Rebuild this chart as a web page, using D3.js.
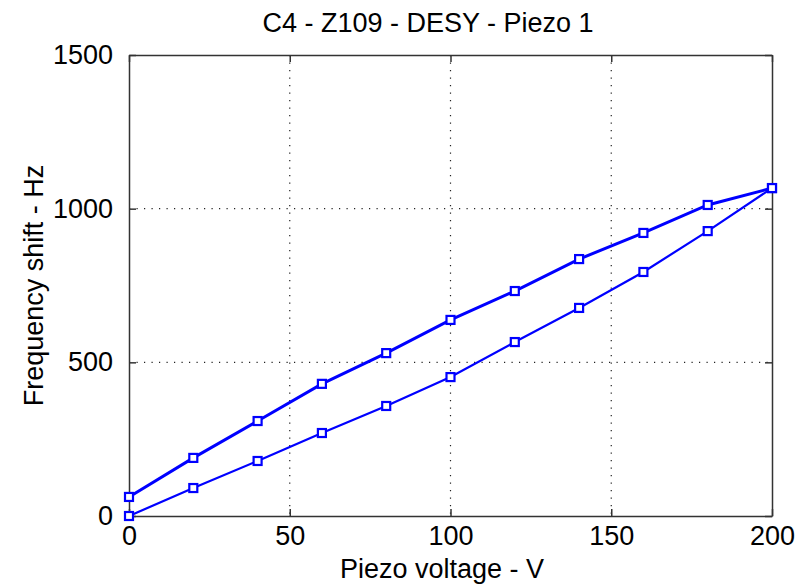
<!DOCTYPE html>
<html>
<head>
<meta charset="utf-8">
<script src="https://cdn.jsdelivr.net/npm/d3@7"></script>
<style>
  body { margin: 0; background: #fff; }
  text { font-family: "Liberation Sans", Arial, sans-serif; fill: #000; }
</style>
</head>
<body>
<div id="chart"></div>
<script>
// Piezo voltage steps (V)
const voltage = [0, 20, 40, 60, 80, 100, 120, 140, 160, 180, 200];
// Frequency shift while ramping voltage up (Hz)
const rampUp = [0, 91, 179, 270, 358, 452, 566, 677, 794, 927, 1067];
// Frequency shift while ramping voltage down (Hz), same voltage order
const rampDown = [62, 189, 309, 430, 530, 638, 732, 836, 921, 1012, 1067];

const xTicks = [0, 50, 100, 150, 200];
const yTicks = [0, 500, 1000, 1500];

const W = 811, H = 585;
const margin = { top: 55, right: 39, bottom: 69, left: 129 };
const width = W - margin.left - margin.right,
      height = H - margin.top - margin.bottom;

const svg = d3.select("#chart").append("svg")
  .attr("width", W).attr("height", H);

const g = svg.append("g")
  .attr("transform", `translate(${margin.left},${margin.top})`);

const x = d3.scaleLinear().domain([0, 200]).range([0, width]);
const y = d3.scaleLinear().domain([0, 1500]).range([height, 0]);

// dotted grid at interior ticks
g.append("g").selectAll("line")
  .data(xTicks.slice(1, -1))
  .join("line")
  .attr("x1", d => x(d)).attr("x2", d => x(d))
  .attr("y1", 0).attr("y2", height)
  .attr("stroke", "#222").attr("stroke-width", 1.2)
  .attr("stroke-dasharray", "1.2,6.3");
g.append("g").selectAll("line")
  .data(yTicks.slice(1, -1))
  .join("line")
  .attr("y1", d => y(d)).attr("y2", d => y(d))
  .attr("x1", 0).attr("x2", width)
  .attr("stroke", "#222").attr("stroke-width", 1.2)
  .attr("stroke-dasharray", "1.2,6.3");

// axes (ticks inward, labels outside)
const fs = 27;
const fmt = d3.format("d");
const xAxis = g.append("g")
  .attr("transform", `translate(0,${height})`)
  .call(d3.axisBottom(x).tickValues(xTicks).tickFormat(fmt).tickSizeInner(-7).tickSizeOuter(0).tickPadding(10));
const yAxis = g.append("g")
  .call(d3.axisLeft(y).tickValues(yTicks).tickFormat(fmt).tickSizeInner(-7).tickSizeOuter(0).tickPadding(16));
g.append("g")
  .call(d3.axisTop(x).tickValues(xTicks).tickSizeInner(-7).tickSizeOuter(0).tickFormat(""));
g.append("g")
  .attr("transform", `translate(${width},0)`)
  .call(d3.axisRight(y).tickValues(yTicks).tickSizeInner(-7).tickSizeOuter(0).tickFormat(""));

g.selectAll(".domain, .tick line").attr("stroke", "#333").attr("stroke-width", 1.5);
g.selectAll(".tick text")
  .style("font-family", "'Liberation Sans', Arial, sans-serif")
  .style("font-size", fs + "px").attr("fill", "#000");
xAxis.selectAll(".tick text").attr("dy", "0.71em");

// series
const upData = voltage.map((v, i) => ({ v: v, f: rampUp[i] }));
const downData = voltage.map((v, i) => ({ v: v, f: rampDown[i] }));
const line = d3.line().x(d => x(d.v)).y(d => y(d.f));

[[upData, 2.2], [downData, 3]].forEach(([data, sw]) => {
  g.append("path")
    .datum(data)
    .attr("d", line)
    .attr("fill", "none")
    .attr("stroke", "#0000ff")
    .attr("stroke-width", sw);
  g.append("g").selectAll("rect")
    .data(data)
    .join("rect")
    .attr("x", d => x(d.v) - 4)
    .attr("y", d => y(d.f) - 4)
    .attr("width", 8).attr("height", 8)
    .attr("fill", "#fff")
    .attr("stroke", "#0000ff")
    .attr("stroke-width", 2.2);
});

// title and axis labels
svg.append("text")
  .attr("x", 428).attr("y", 32)
  .attr("text-anchor", "middle")
  .style("font-size", fs + "px")
  .text("C4 - Z109 - DESY - Piezo 1");
svg.append("text")
  .attr("x", 442).attr("y", 578)
  .attr("text-anchor", "middle")
  .style("font-size", fs + "px")
  .text("Piezo voltage - V");
svg.append("text")
  .attr("transform", `translate(43,${margin.top + height / 2}) rotate(-90)`)
  .attr("text-anchor", "middle")
  .style("font-size", fs + "px")
  .text("Frequency shift - Hz");
</script>
</body>
</html>
